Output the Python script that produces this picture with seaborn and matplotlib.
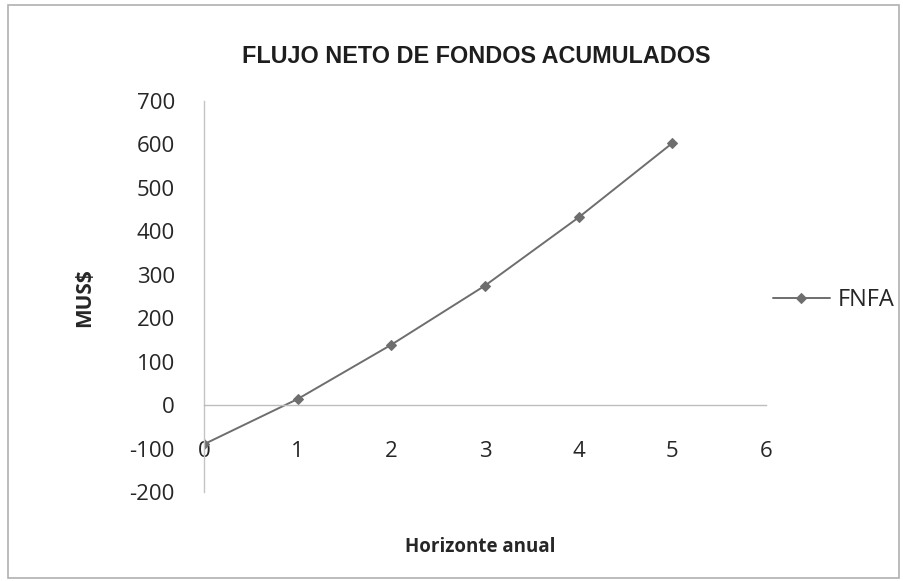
import matplotlib
matplotlib.use("Agg")
import matplotlib.pyplot as plt
import seaborn as sns
import pandas as pd
from matplotlib.patches import Rectangle

# Accumulated net cash flow per year (thousands of US$)
years = [0, 1, 2, 3, 4, 5]
fnfa = [-90, 14, 139, 275, 432, 603]
series_name = "FNFA"
y_ticks = [-200, -100, 0, 100, 200, 300, 400, 500, 600, 700]
x_ticks = [0, 1, 2, 3, 4, 5, 6]

df = pd.DataFrame({"Horizonte anual": years, "MUS$": fnfa})

sns.set_theme(style="white")
plt.rcParams["font.family"] = ["Open Sans", "DejaVu Sans"]
plt.rcParams["axes.unicode_minus"] = False

fig = plt.figure(figsize=(9.04, 5.81), dpi=100)
ax = fig.add_axes([0.2257, 0.1532, 0.6216, 0.673])

line_col = "#6e6e6e"
sns.lineplot(data=df, x="Horizonte anual", y="MUS$", ax=ax, color=line_col,
             linewidth=1.4, marker="D", markersize=5, markeredgecolor=line_col,
             label=series_name)

ax.set_xlim(0, 6)
ax.set_ylim(-200, 700)
ax.set_xticks(x_ticks)
ax.set_yticks(y_ticks)

# Excel-style axes: y axis at x=0, x axis crossing at y=0
for s in ["top", "right"]:
    ax.spines[s].set_visible(False)
ax.spines["bottom"].set_position(("data", 0))
ax.spines["bottom"].set_color("#bdbdbd")
ax.spines["left"].set_color("#c4c4c4")
ax.spines["bottom"].set_linewidth(1.0)
ax.spines["left"].set_linewidth(1.0)

tick_col = "#262626"
ax.tick_params(axis="y", length=0, pad=21, labelsize=16, labelcolor=tick_col)
ax.tick_params(axis="x", length=0, pad=26, labelsize=16, labelcolor=tick_col)
for lbl in ax.get_xticklabels() + ax.get_yticklabels():
    lbl.set_fontweight("medium")

ax.set_xlabel("")
ax.set_ylabel("")
fig.text(0.094, 0.487, "MUS$", rotation=90, ha="center", va="center",
         fontsize=15, fontweight="bold", color="#262626")
fig.text(0.531, 0.058, "Horizonte anual", ha="center", va="center",
         fontsize=13.5, fontweight="bold", color="#262626")
fig.text(0.527, 0.902, "FLUJO NETO DE FONDOS ACUMULADOS", ha="center",
         va="center", fontsize=16.8, fontweight="bold", color="#1e1e1e",
         family=["Liberation Sans", "DejaVu Sans"])

leg = ax.legend(loc="center left", bbox_to_anchor=(0.975, 0.49),
                frameon=False, fontsize=17, handlelength=2.4,
                handletextpad=0.33, labelcolor=tick_col)
for t in leg.get_texts():
    t.set_fontweight("medium")

# chart border
fig.patches.append(Rectangle((0.009, 0.005), 0.985, 0.986, transform=fig.transFigure,
                             fill=False, edgecolor="#b0b0b0", linewidth=1.2))

fig.savefig("out.png", dpi=100, facecolor="white")
